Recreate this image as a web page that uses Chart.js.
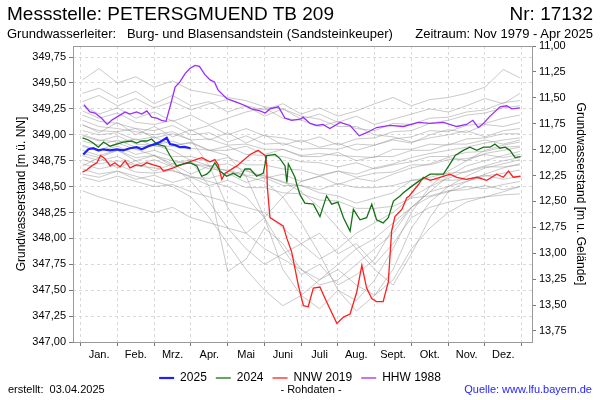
<!DOCTYPE html>
<html>
<head>
<meta charset="utf-8">
<script src="https://cdn.jsdelivr.net/npm/chart.js@4"></script>
<style>
  body { margin: 0; width: 600px; height: 400px; position: relative; background: #fff; overflow: hidden;
         font-family: "Liberation Sans", Arial, sans-serif; }
  #wrap { position: absolute; left: 0; top: 0; width: 600px; height: 400px; }
  .t { position: absolute; white-space: nowrap; color: #000; }
</style>
</head>
<body>
<div id="wrap"><canvas id="chart" width="600" height="400"></canvas></div>
<div class="t" style="left:7px;top:3px;font-size:19px">Messstelle: PETERSGMUEND TB 209</div>
<div class="t" style="right:7px;top:3px;font-size:19px">Nr: 17132</div>
<div class="t" style="left:7px;top:26px;font-size:13px">Grundwasserleiter:&nbsp;&nbsp; Burg- und Blasensandstein (Sandsteinkeuper)</div>
<div class="t" style="right:7px;top:26px;font-size:13px">Zeitraum: Nov 1979 - Apr 2025</div>
<div class="t" style="left:8px;top:383px;font-size:11px">erstellt:&nbsp; 03.04.2025</div>
<div class="t" style="left:311px;top:383px;font-size:11px;transform:translateX(-50%)">- Rohdaten -</div>
<div class="t" style="right:8px;top:383px;font-size:11px;color:#2424ff">Quelle: www.lfu.bayern.de</div>
<script>
(function () {
  "use strict";

  // ── Data ─────────────────────────────────────────────
  // x = position in the year in months (0 = 1. Jan, 12 = 31. Dez)
  const MONTHS = ["Jan.", "Feb.", "Mrz.", "Apr.", "Mai", "Juni", "Juli", "Aug.", "Sept.", "Okt.", "Nov.", "Dez."];
  const LEFT_TICKS = [347.00, 347.25, 347.50, 347.75, 348.00, 348.25, 348.50, 348.75, 349.00, 349.25, 349.50, 349.75];
  const RIGHT_TICKS = [11.00, 11.25, 11.50, 11.75, 12.00, 12.25, 12.50, 12.75, 13.00, 13.25, 13.50, 13.75];
  const GROUND = 360.857; // m ü. NN, so that depth = GROUND - level

  const line2025 = [
    [0.07,348.81],[0.21,348.86],[0.34,348.87],[0.48,348.85],[0.62,348.86],[0.80,348.85],[0.98,348.86],
    [1.16,348.85],[1.34,348.87],[1.52,348.88],[1.66,348.86],[1.84,348.89],[2.02,348.91],[2.16,348.93],
    [2.34,348.97],[2.43,348.91],[2.57,348.90],[2.70,348.88],[2.84,348.88],[2.99,348.87]
  ];

  const line2024 = [
    [0.05,348.97],[0.21,348.95],[0.34,348.92],[0.48,348.88],[0.62,348.93],[0.80,348.89],[0.98,348.91],
    [1.16,348.93],[1.39,348.94],[1.52,348.92],[1.66,348.94],[1.80,348.94],[1.93,348.96],[2.07,348.91],
    [2.29,348.89],[2.43,348.80],[2.61,348.70],[2.79,348.72],[2.97,348.73],[3.16,348.70],[3.29,348.60],
    [3.43,348.62],[3.52,348.65],[3.65,348.73],[3.79,348.65],[3.97,348.60],[4.15,348.63],[4.34,348.59],
    [4.47,348.67],[4.61,348.67],[4.79,348.60],[4.97,348.63],[5.06,348.80],[5.29,348.81],[5.42,348.77],
    [5.56,348.70],[5.61,348.54],[5.65,348.72],[5.83,348.59],[5.88,348.52],[5.97,348.42],[6.10,348.34],
    [6.33,348.33],[6.51,348.21],[6.69,348.41],[6.83,348.33],[7.00,348.35],[7.15,348.20],[7.33,348.07],
    [7.42,348.28],[7.60,348.18],[7.78,348.20],[7.92,348.33],[8.05,348.18],[8.23,348.15],[8.37,348.20],
    [8.51,348.36],[8.69,348.41],[8.78,348.44],[8.96,348.49],[9.19,348.55],[9.37,348.59],[9.51,348.62],
    [9.69,348.62],[9.87,348.62],[10.05,348.72],[10.19,348.80],[10.41,348.85],[10.59,348.88],[10.78,348.85],
    [10.96,348.88],[11.14,348.88],[11.27,348.91],[11.41,348.87],[11.55,348.88],[11.68,348.85],[11.82,348.78],
    [11.97,348.79]
  ];

  const lineNNW2019 = [
    [0.05,348.64],[0.16,348.66],[0.30,348.70],[0.44,348.73],[0.54,348.80],[0.66,348.77],[0.80,348.70],
    [0.93,348.73],[1.07,348.69],[1.21,348.75],[1.34,348.68],[1.52,348.71],[1.66,348.70],[1.80,348.73],
    [1.98,348.71],[2.16,348.69],[2.25,348.65],[2.52,348.68],[2.88,348.73],[3.29,348.78],[3.52,348.74],
    [3.65,348.76],[3.74,348.71],[3.84,348.57],[3.93,348.63],[4.25,348.70],[4.61,348.81],[4.83,348.85],
    [5.02,348.80],[5.06,348.72],[5.08,348.49],[5.15,348.20],[5.33,348.16],[5.51,348.12],[5.61,348.00],
    [5.74,347.87],[5.83,347.71],[5.92,347.55],[6.06,347.35],[6.19,347.34],[6.33,347.52],[6.51,347.53],
    [6.65,347.42],[6.78,347.32],[6.97,347.18],[7.15,347.24],[7.33,347.27],[7.51,347.48],[7.65,347.74],
    [7.78,347.52],[7.92,347.42],[8.05,347.39],[8.23,347.39],[8.37,347.58],[8.46,348.07],[8.55,348.21],
    [8.74,348.28],[8.87,348.39],[8.94,348.41],[9.19,348.52],[9.32,348.59],[9.51,348.56],[9.78,348.59],
    [10.05,348.62],[10.23,348.59],[10.50,348.57],[10.78,348.59],[11.05,348.56],[11.32,348.62],[11.50,348.59],
    [11.64,348.65],[11.77,348.59],[11.97,348.60]
  ];

  const lineHHW1988 = [
    [0.09,349.29],[0.25,349.22],[0.39,349.21],[0.57,349.16],[0.72,349.10],[0.84,349.14],[0.98,349.17],
    [1.07,349.19],[1.21,349.22],[1.34,349.20],[1.52,349.22],[1.66,349.20],[1.80,349.23],[1.93,349.17],
    [2.07,349.16],[2.20,349.14],[2.32,349.13],[2.43,349.27],[2.57,349.46],[2.70,349.51],[2.84,349.59],
    [2.97,349.64],[3.11,349.67],[3.23,349.66],[3.38,349.58],[3.52,349.53],[3.64,349.51],[3.74,349.43],
    [3.97,349.35],[4.20,349.32],[4.42,349.29],[4.65,349.25],[4.88,349.23],[5.02,349.21],[5.15,349.25],
    [5.38,349.27],[5.56,349.16],[5.74,349.14],[5.97,349.15],[6.05,349.17],[6.24,349.11],[6.42,349.09],
    [6.59,349.10],[6.78,349.06],[7.06,349.12],[7.33,349.09],[7.58,348.99],[7.78,349.02],[8.05,349.07],
    [8.42,349.09],[8.78,349.08],[9.19,349.12],[9.51,349.11],[9.87,349.12],[10.23,349.08],[10.50,349.10],
    [10.67,349.14],[10.82,349.07],[10.96,349.11],[11.14,349.18],[11.41,349.27],[11.59,349.28],[11.73,349.25],
    [11.95,349.26]
  ];

  // other years (grey), sampled every half month
  const GREY_X = [0.05, 0.5, 1, 1.5, 2, 2.5, 3, 3.5, 4, 4.5, 5, 5.5, 6, 6.5, 7, 7.5, 8, 8.5, 9, 9.5, 10, 10.5, 11, 11.5, 11.95];
  const grey01 = [349.53,349.64,349.50,349.56,349.46,349.52,349.43,349.40,349.36,349.33,349.27,349.25,349.18,349.15,349.08,349.08,349.00,348.98,348.93,348.97,349.00,349.04,348.98,349.04,349.06];
  const grey02 = [349.32,349.38,349.28,349.35,349.26,349.32,349.24,349.30,349.34,349.28,349.24,349.30,349.20,349.26,349.18,349.23,349.30,349.36,349.28,349.34,349.36,349.40,349.46,349.63,349.55];
  const grey03 = [349.28,349.20,349.26,349.16,349.22,349.13,349.19,349.10,349.16,349.22,349.26,349.16,349.14,349.08,349.13,349.06,349.04,349.11,349.10,349.16,349.17,349.22,349.24,349.31,349.33];
  const grey04 = [349.23,349.16,349.21,349.12,349.10,349.14,349.04,349.09,349.00,349.06,348.99,348.97,348.93,348.98,348.90,348.96,348.97,349.03,349.04,349.11,349.14,349.19,349.21,349.26,349.28];
  const grey05 = [349.19,349.13,349.11,349.06,349.04,349.09,349.00,349.02,348.93,348.99,348.91,348.92,348.86,348.87,348.86,348.91,348.90,348.96,348.98,349.04,349.03,349.09,349.11,349.16,349.19];
  const grey06 = [349.14,349.08,349.06,349.03,349.00,349.03,348.95,348.96,348.90,348.91,348.86,348.86,348.80,348.82,348.80,348.79,348.78,348.86,348.86,348.91,348.90,348.96,348.97,349.01,349.01];
  const grey07 = [349.09,349.04,349.03,349.06,348.97,349.01,348.95,348.70,348.30,348.05,348.20,348.40,348.55,348.60,348.65,348.62,348.68,348.72,348.78,348.82,348.85,348.88,348.92,348.95,348.97];
  const grey08 = [349.04,349.00,349.02,348.95,348.98,348.90,348.92,348.85,348.80,348.60,348.20,347.70,347.45,347.32,347.50,347.40,347.60,347.90,348.25,348.50,348.65,348.75,348.85,348.90,348.93];
  const grey09 = [348.99,348.94,348.99,348.91,348.90,348.94,348.87,348.85,348.89,348.81,348.80,348.79,348.74,348.73,348.69,348.73,348.67,348.71,348.74,348.79,348.79,348.83,348.84,348.88,348.89];
  const grey10 = [348.94,348.90,348.95,348.88,348.90,348.85,348.75,348.50,347.68,347.80,348.10,347.95,347.70,347.55,347.60,347.75,347.90,348.05,348.30,348.45,348.60,348.70,348.75,348.80,348.84];
  const grey11 = [348.89,348.84,348.89,348.81,348.85,348.79,348.79,348.74,348.78,348.71,348.71,348.67,348.66,348.61,348.65,348.59,348.63,348.64,348.71,348.71,348.76,348.77,348.81,348.78,348.81];
  const grey12 = [348.85,348.80,348.85,348.78,348.80,348.75,348.72,348.70,348.65,348.60,348.55,348.40,348.15,347.85,347.50,347.30,347.45,347.70,348.10,348.35,348.50,348.60,348.68,348.72,348.76];
  const grey13 = [348.80,348.75,348.79,348.71,348.76,348.69,348.73,348.67,348.66,348.61,348.61,348.54,348.51,348.44,348.41,348.34,348.39,348.44,348.56,348.59,348.63,348.64,348.69,348.69,348.71];
  const grey14 = [348.76,348.72,348.75,348.70,348.68,348.65,348.60,348.55,348.50,348.40,348.20,347.90,347.65,347.75,347.55,347.65,347.80,348.10,348.30,348.45,348.50,348.55,348.60,348.63,348.66];
  const grey15 = [348.72,348.67,348.71,348.64,348.63,348.66,348.59,348.58,348.63,348.54,348.59,348.51,348.51,348.47,348.53,348.49,348.49,348.51,348.56,348.57,348.56,348.57,348.61,348.57,348.60];
  const grey16 = [348.67,348.62,348.65,348.60,348.55,348.50,348.40,348.20,347.95,347.70,347.50,347.35,347.45,347.60,347.75,347.90,348.00,348.15,348.30,348.40,348.45,348.50,348.48,348.52,348.55];
  const grey17 = [348.62,348.59,348.65,348.57,348.61,348.54,348.59,348.51,348.56,348.49,348.49,348.44,348.43,348.37,348.36,348.29,348.29,348.31,348.39,348.41,348.46,348.47,348.51,348.47,348.50];
  const grey18 = [348.59,348.55,348.60,348.55,348.50,348.52,348.45,348.40,348.35,348.30,348.25,348.10,347.95,348.05,347.85,347.95,347.75,347.95,348.20,348.30,348.35,348.38,348.40,348.42,348.43];
  const grey19 = [348.46,348.40,348.35,348.30,348.25,348.30,348.20,348.15,348.10,348.05,347.90,347.80,347.70,347.60,347.70,347.55,347.45,347.60,347.90,348.10,348.25,348.35,348.40,348.45,348.50];
  const grey20 = [349.00,348.95,348.93,348.96,348.89,348.89,348.93,348.85,348.85,348.89,348.81,348.86,348.79,348.79,348.83,348.75,348.79,348.79,348.85,348.85,348.91,348.91,348.95,348.91,348.95];
  const grey21 = [349.40,349.45,349.35,349.42,349.30,349.38,349.28,349.32,349.22,349.28,349.18,349.25,349.15,349.20,349.12,349.18,349.10,349.15,349.20,349.25,349.22,349.28,349.35,349.30,349.40];
  const grey22 = [349.10,349.02,349.12,349.00,349.08,348.98,349.05,348.95,349.02,348.92,349.00,348.90,348.95,348.88,348.92,348.85,348.90,348.95,348.92,349.00,349.05,349.02,349.10,349.08,349.12];
  const grey23 = [348.70,348.78,348.68,348.75,348.65,348.72,348.62,348.70,348.60,348.66,348.58,348.62,348.55,348.60,348.52,348.58,348.55,348.62,348.68,348.72,348.78,348.75,348.82,348.85,348.88];
  const grey24 = [348.82,348.78,348.85,348.75,348.80,348.72,348.76,348.70,348.72,348.65,348.60,348.55,348.45,348.30,348.10,347.90,347.70,347.55,347.85,348.20,348.45,348.55,348.62,348.68,348.72];
  const grey25 = [348.90,348.85,348.92,348.86,348.80,348.70,348.55,348.35,348.10,347.90,347.75,347.85,347.95,347.80,347.90,348.05,348.15,348.25,348.40,348.50,348.58,348.65,348.70,348.75,348.78];
  const GREY_YEARS = [grey01, grey02, grey03, grey04, grey05, grey06, grey07, grey08, grey09, grey10,
                      grey11, grey12, grey13, grey14, grey15, grey16, grey17, grey18, grey19, grey20,
                      grey21, grey22, grey23, grey24, grey25];

  // ── Chart ────────────────────────────────────────────
  const FONT = "'Liberation Sans', Arial, sans-serif";
  const toPoints = (arr) => arr.map((p) => ({ x: p[0], y: p[1] }));

  function mainLine(label, data, color, width) {
    return {
      label: label, data: toPoints(data), borderColor: color, backgroundColor: color,
      borderWidth: width, pointRadius: 0, tension: 0, fill: false
    };
  }

  const datasets = [
    mainLine("2025", line2025, "#1f1fff", 2.2),
    mainLine("2024", line2024, "#137313", 1.3),
    mainLine("NNW 2019", lineNNW2019, "#ff1f1f", 1.3),
    mainLine("HHW 1988", lineHHW1988, "#9a2cff", 1.3)
  ];
  GREY_YEARS.forEach((vals) => {
    datasets.push({
      label: "", grey: true,
      data: vals.map((v, i) => ({ x: GREY_X[i], y: v })),
      borderColor: "rgba(150,150,150,0.5)", borderWidth: 1, pointRadius: 0, tension: 0, fill: false
    });
  });

  const frame = {
    id: "frame",
    beforeDatasetsDraw(chart) {
      const a = chart.chartArea, c = chart.ctx;
      c.save();
      c.strokeStyle = "#9a9a9a";
      c.lineWidth = 1;
      c.strokeRect(Math.round(a.left) + 0.5, Math.round(a.top) + 0.5,
                   Math.round(a.right - a.left), Math.round(a.bottom - a.top));
      c.restore();
    }
  };

  const fmt = (v) => v.toFixed(2).replace(".", ",");
  const isEdge = (v) => Math.abs(v - Math.round(v)) < 1e-6;

  new Chart(document.getElementById("chart"), {
    type: "line",
    data: { datasets: datasets },
    plugins: [frame],
    options: {
      responsive: false,
      animation: false,
      devicePixelRatio: 1,
      layout: { padding: { top: 46, left: 0, right: 0, bottom: 6 } },
      plugins: {
        legend: {
          position: "bottom",
          labels: {
            filter: (item, data) => !data.datasets[item.datasetIndex].grey,
            usePointStyle: true, pointStyle: "line", pointStyleWidth: 15,
            color: "#000", padding: 9,
            font: { family: FONT, size: 12 }
          }
        },
        tooltip: { enabled: false }
      },
      scales: {
        x: {
          type: "linear", position: "bottom", min: -0.2095, max: 12.28,
          afterBuildTicks: (s) => {
            const t = [];
            for (let i = 0; i <= 24; i++) t.push({ value: i / 2 });
            s.ticks = t;
          },
          afterFit: (s) => { s.height = 21; },
          ticks: {
            autoSkip: false, maxRotation: 0, padding: 2, color: "#000",
            font: { family: FONT, size: 11 },
            callback: (v) => (isEdge(v) ? "" : MONTHS[Math.floor(v)])
          },
          grid: {
            color: (ctx) => (ctx.tick && isEdge(ctx.tick.value) ? "#d9d9d9" : "rgba(0,0,0,0)"),
            tickColor: (ctx) => (ctx.tick && isEdge(ctx.tick.value) ? "#777" : "rgba(0,0,0,0)"),
            tickLength: 4, lineWidth: 1
          },
          border: { display: false, dash: [3, 3] }
        },
        y: {
          type: "linear", position: "left", min: 347.0, max: 349.857,
          afterBuildTicks: (s) => { s.ticks = LEFT_TICKS.map((v) => ({ value: v })); },
          afterFit: (s) => { s.width = 73; },
          ticks: { padding: 3, color: "#000", font: { family: FONT, size: 11 }, callback: (v) => fmt(v) },
          grid: { color: "#d9d9d9", tickColor: "#777", tickLength: 4 },
          border: { display: false, dash: [3, 3] },
          title: {
            display: true, text: "Grundwasserstand [m ü. NN]", color: "#000",
            font: { family: FONT, size: 12 }, padding: { top: 14, bottom: 0 }
          }
        },
        y2: {
          type: "linear", position: "right", reverse: true,
          min: GROUND - 349.857, max: GROUND - 347.0,
          afterBuildTicks: (s) => { s.ticks = RIGHT_TICKS.map((v) => ({ value: v })); },
          afterFit: (s) => { s.width = 68; },
          ticks: { padding: 3, color: "#000", font: { family: FONT, size: 11 }, callback: (v) => fmt(v) },
          grid: { drawOnChartArea: false, tickColor: "#777", tickLength: 4 },
          border: { display: false },
          title: {
            display: true, text: "Grundwasserstand [m u. Gelände]", color: "#000",
            font: { family: FONT, size: 12 }, padding: { top: 12, bottom: 0 }
          }
        }
      }
    }
  });
})();
</script>
</body>
</html>
